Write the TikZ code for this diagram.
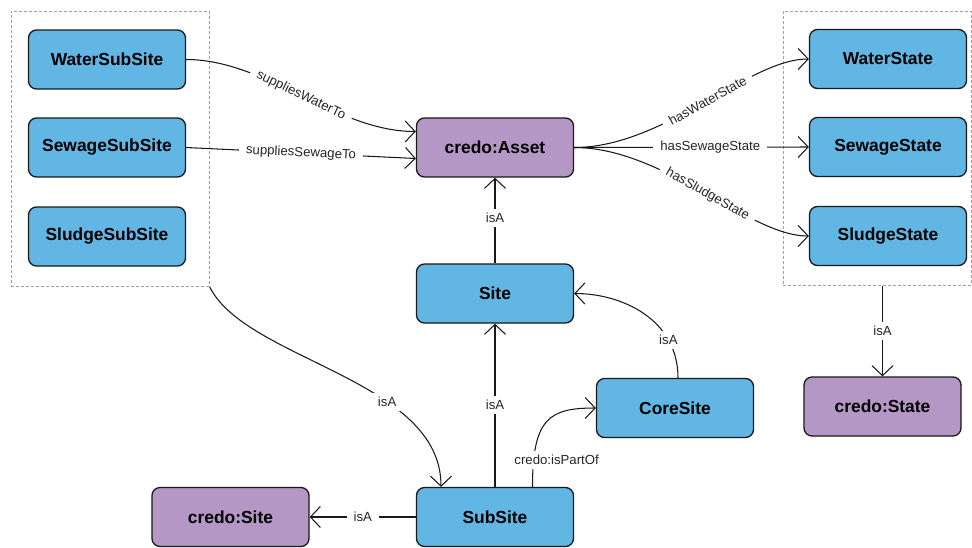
\documentclass[tikz,border=0pt]{standalone}
\usepackage{fontspec}
\setmainfont{Liberation Sans}
\usetikzlibrary{arrows.meta}
\definecolor{siteblue}{HTML}{62B6E4}
\definecolor{credopurple}{HTML}{B597C5}
\definecolor{groupgray}{HTML}{A0A0A0}
\begin{document}
\begin{tikzpicture}[x=1pt,y=-1pt,
  cls/.style={draw=black!90, line width=1.3pt, rounded corners=8pt,
    minimum width=157pt, minimum height=59pt, inner sep=0pt,
    font=\fontsize{17.4}{20}\selectfont\bfseries},
  local/.style={cls, fill=siteblue},
  credo/.style={cls, fill=credopurple},
  group/.style={draw=groupgray, dash pattern=on 3pt off 2pt, line width=1pt, inner sep=0pt},
  rel/.style={draw=black!90, line width=1.05pt, -{Straight Barb[length=10pt,width=21pt]}},
  lbl/.style={fill=white, inner xsep=7pt, inner ysep=4pt, text=black!85,
    font=\fontsize{13.2}{15}\selectfont},
]
\useasboundingbox (0,0) rectangle (972,547);

% dashed groups
\node[group, minimum width=198pt, minimum height=275pt] (lgrp) at (110,148.5) {};
\node[group, minimum width=188pt, minimum height=274pt] (rgrp) at (877,148) {};

% classes
\node[local] (wss) at (107,59.5) {WaterSubSite};
\node[local] (sws) at (107,147.5) {SewageSubSite};
\node[local] (sls) at (107,236.5) {SludgeSubSite};
\node[credo] (asset) at (495,147.5) {credo:Asset};
\node[local] (ws) at (888,59) {WaterState};
\node[local] (sewst) at (888,147) {SewageState};
\node[local] (slst) at (888,236) {SludgeState};
\node[local] (site) at (495,293.5) {Site};
\node[local] (core) at (675,408) {CoreSite};
\node[credo] (cstate) at (882.5,406.5) {credo:State};
\node[local] (sub) at (495,517) {SubSite};
\node[credo] (csite) at (230.5,517) {credo:Site};

% relations
\draw[rel] (wss.east) .. controls +(80,0) and +(-80,0) .. ([yshift=16pt]asset.west)
  node[lbl, sloped, pos=0.5] {suppliesWaterTo};
\draw[rel] (sws.east) -- ([yshift=-11pt]asset.west)
  node[lbl, sloped, pos=0.5] {suppliesSewageTo};

\draw[rel] (asset.east) .. controls +(90,0) and +(-60,0) .. (ws.west)
  node[lbl, sloped, pos=0.52] {hasWaterState};
\draw[rel] (asset.east) -- (sewst.west) node[lbl, pos=0.58] {hasSewageState};
\draw[rel] (asset.east) .. controls +(90,0) and +(-60,0) .. (slst.west)
  node[lbl, sloped, pos=0.52] {hasSludgeState};

\draw[rel] (site.north) -- (asset.south) node[lbl, pos=0.53] {isA};
\draw[rel] (sub.north) -- (site.south) node[lbl, midway] {isA};
\draw[rel] ([xshift=3pt]core.north) .. controls +(0,-59) and +(47,0) .. (site.east)
  node[lbl, pos=0.25] {isA};
\draw[rel] ([xshift=37.5pt]sub.north) .. controls +(0,-68) and +(-47,0) .. (core.west)
  node[lbl, pos=0.15, xshift=23pt, inner xsep=2pt] {credo:isPartOf};
\draw[rel] (sub.west) -- (csite.east) node[lbl, midway] {isA};

\draw[rel] (lgrp.south east) .. controls +(36,74) and +(0,-108) .. ([xshift=-54pt]sub.north)
  node[lbl, pos=0.66] {isA};
\draw[rel] (rgrp.south -| cstate.north) -- (cstate.north) node[lbl, midway] {isA};
\end{tikzpicture}
\end{document}
